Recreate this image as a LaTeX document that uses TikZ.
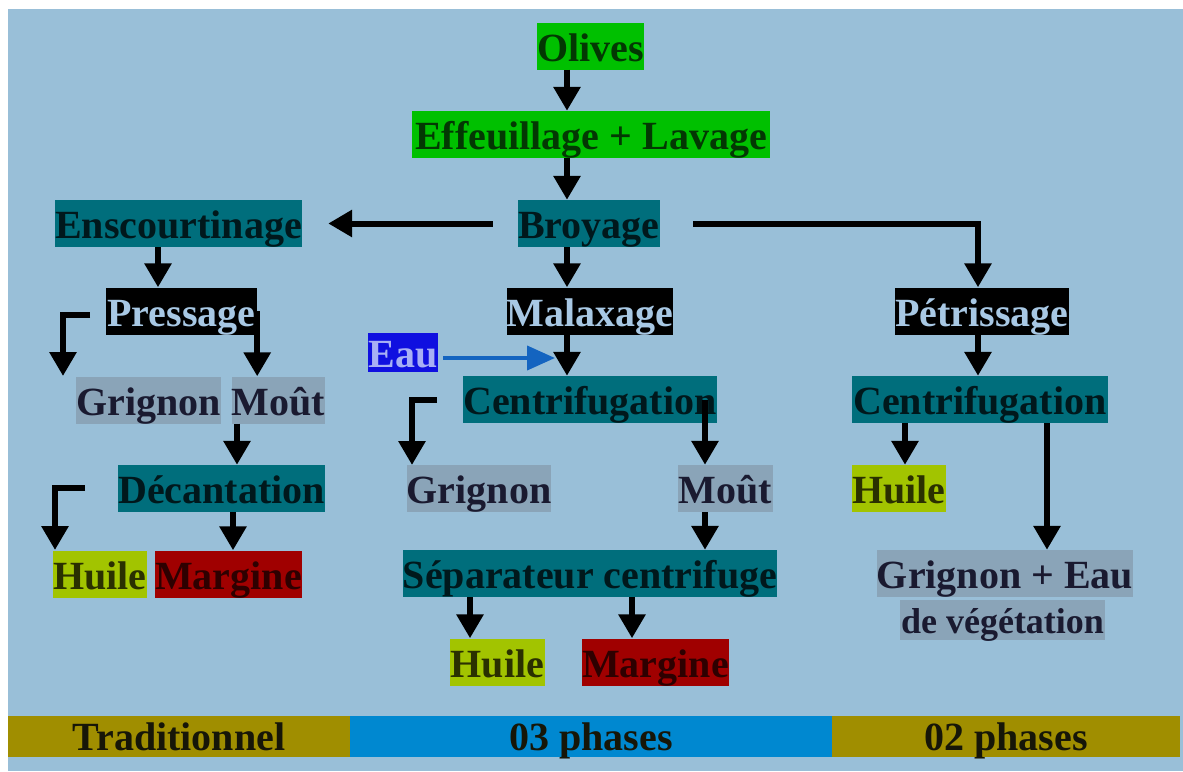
\documentclass[tikz,border=0pt]{standalone}
\usepackage{fontspec}
\setmainfont{Liberation Serif}
\usetikzlibrary{arrows.meta}

\definecolor{bgblue}{HTML}{99BFD8}
\definecolor{leafgreen}{HTML}{00C000}
\definecolor{leafink}{HTML}{033803}
\definecolor{procteal}{HTML}{006E7C}
\definecolor{procink}{HTML}{00181C}
\definecolor{residgray}{HTML}{8AA4B8}
\definecolor{residink}{HTML}{1A1A30}
\definecolor{oilgreen}{HTML}{A2C400}
\definecolor{oilink}{HTML}{2A3000}
\definecolor{margred}{HTML}{A00000}
\definecolor{margink}{HTML}{2E0000}
\definecolor{darkink}{HTML}{A8C8E4}
\definecolor{eaublue}{HTML}{1010E0}
\definecolor{eauink}{HTML}{A8B0F4}
\definecolor{eauline}{HTML}{1464C0}
\definecolor{tradgold}{HTML}{A08E00}
\definecolor{phaseblue}{HTML}{0088D0}
\definecolor{barink}{HTML}{161608}

\tikzset{
  box/.style={inner sep=0pt, minimum height=47pt, text height=32pt, text depth=2pt,
    font=\bfseries\fontsize{40}{44}\selectfont, anchor=center},
  leafbox/.style={box, fill=leafgreen, text=leafink},
  tealbox/.style={box, fill=procteal, text=procink},
  darkbox/.style={box, fill=black, text=darkink},
  residbox/.style={box, fill=residgray, text=residink},
  oilbox/.style={box, fill=oilgreen, text=oilink},
  margbox/.style={box, fill=margred, text=margink},
  eaubox/.style={box, minimum height=39pt, fill=eaublue, text=eauink},
  barbox/.style={box, minimum height=41pt, text height=30pt, text depth=3pt, text=barink},
  flow/.style={line width=6pt, draw=black, -{Triangle[width=26pt,length=24pt]}},
  eauflow/.style={line width=4pt, draw=eauline, -{Triangle[width=24pt,length=28pt]}}
}

\begin{document}
\begin{tikzpicture}[x=1pt, y=-1pt]
  \useasboundingbox (0,0) rectangle (1183,771);
  \fill[white] (0,0) rectangle (1183,771);
  \fill[bgblue] (8,9) rectangle (1183,771);

  % preparation
  \node[leafbox, minimum width=105pt] (olives) at (590.5,46) {Olives};
  \node[leafbox, minimum width=358pt] (wash) at (591,134.5) {Effeuillage + Lavage};
  \node[tealbox, minimum width=142pt] (broyage) at (589,223.5) {Broyage};

  % traditional process
  \node[tealbox, minimum width=247pt] (ensc) at (178.5,223.5) {Enscourtinage};
  \node[darkbox, minimum width=151pt] (pressage) at (181.5,311) {Pressage};
  \node[residbox, minimum width=143pt] (grigA) at (148.5,400) {Grignon};
  \node[residbox, minimum width=93pt] (moutA) at (278.5,400) {Moût};
  \node[tealbox, minimum width=207pt] (decA) at (221.5,488.5) {Décantation};
  \node[oilbox, minimum width=94pt] (huileA) at (100,574) {Huile};
  \node[margbox, minimum width=147pt] (margA) at (228.5,574) {Margine};

  % three-phase process
  \node[darkbox, minimum width=164pt] (malax) at (590,311) {Malaxage};
  \node[eaubox, minimum width=70pt] (eau) at (403,352.5) {Eau};
  \node[tealbox, minimum width=250pt] (centB) at (590,399.5) {Centrifugation};
  \node[residbox, minimum width=142pt] (grigB) at (479,488.5) {Grignon};
  \node[residbox, minimum width=95pt] (moutB) at (725.5,488.5) {Moût};
  \node[tealbox, minimum width=370pt] (sepB) at (590,573.5) {Séparateur centrifuge};
  \node[oilbox, minimum width=95pt] (huileB) at (497.5,662) {Huile};
  \node[margbox, minimum width=145pt] (margB) at (655.5,662) {Margine};

  % two-phase process
  \node[darkbox, minimum width=170pt] (petr) at (982,311) {Pétrissage};
  \node[tealbox, minimum width=256pt] (centC) at (980,399.5) {Centrifugation};
  \node[oilbox, minimum width=94pt] (huileC) at (899,488.5) {Huile};
  \node[residbox, minimum width=256pt] (grigC) at (1005,573.5) {Grignon + Eau};
  \node[residbox, minimum width=205pt, minimum height=40pt, text height=28pt, text depth=2pt,
        font=\bfseries\fontsize{36}{40}\selectfont] (vegC) at (1002.5,620) {de végétation};

  % process families
  \node[barbox, fill=tradgold, minimum width=342pt] (trad) at (179,736.5) {Traditionnel};
  \node[barbox, fill=phaseblue, minimum width=482pt] (three) at (591,736.5) {03 phases};
  \node[barbox, fill=tradgold, minimum width=348pt] (two) at (1006,736.5) {02 phases};

  % columns and free ends of the connectors
  \coordinate (colMid) at (567,0);
  \coordinate (colEnsc) at (158,0);
  \coordinate (colMoutA) at (237,0);
  \coordinate (colMargA) at (233,0);
  \coordinate (colMoutB) at (705,0);
  \coordinate (colHuileB) at (470,0);
  \coordinate (colMargB) at (632,0);
  \coordinate (colPet) at (978,0);
  \coordinate (colHuileC) at (905,0);
  \coordinate (colGrigC) at (1047,0);
  \coordinate (pressTurn) at (90,315);
  \coordinate (pressDrop) at (63,376);
  \coordinate (decTurn) at (85,488);
  \coordinate (decDrop) at (55,550);
  \coordinate (centTurn) at (437,400);
  \coordinate (centDrop) at (412,465);
  \coordinate (eauTip) at (555,358);

  % main line
  \draw[flow] (olives.south -| colMid) -- (wash.north -| colMid);
  \draw[flow] (wash.south -| colMid) -- (broyage.north -| colMid);
  \draw[flow, shorten <=25pt, shorten >=26pt] (broyage.west) -- (ensc.east);
  \draw[flow, shorten <=33pt] (broyage.east) -| (petr.north -| colPet);
  \draw[flow] (broyage.south -| colMid) -- (malax.north -| colMid);

  % traditional branch
  \draw[flow] (ensc.south -| colEnsc) -- (pressage.north -| colEnsc);
  \draw[flow] (pressTurn) -| (pressDrop);
  \draw[flow] (pressage.east) -- (pressage.east |- moutA.north);
  \draw[flow] (moutA.south -| colMoutA) -- (decA.north -| colMoutA);
  \draw[flow] (decTurn) -| (decDrop);
  \draw[flow] (decA.south -| colMargA) -- (margA.north -| colMargA);

  % three-phase branch
  \draw[flow] (malax.south -| colMid) -- (centB.north -| colMid);
  \draw[eauflow, shorten <=5pt] (eau.east |- eauTip) -- (eauTip);
  \draw[flow] (centTurn) -| (centDrop);
  \draw[flow] (centB.center -| colMoutB) -- (moutB.north -| colMoutB);
  \draw[flow] (moutB.south -| colMoutB) -- (sepB.north -| colMoutB);
  \draw[flow] (sepB.south -| colHuileB) -- (huileB.north -| colHuileB);
  \draw[flow] (sepB.south -| colMargB) -- (margB.north -| colMargB);

  % two-phase branch
  \draw[flow] (petr.south -| colPet) -- (centC.north -| colPet);
  \draw[flow] (centC.south -| colHuileC) -- (huileC.north -| colHuileC);
  \draw[flow] (centC.south -| colGrigC) -- (grigC.north -| colGrigC);
\end{tikzpicture}
\end{document}
